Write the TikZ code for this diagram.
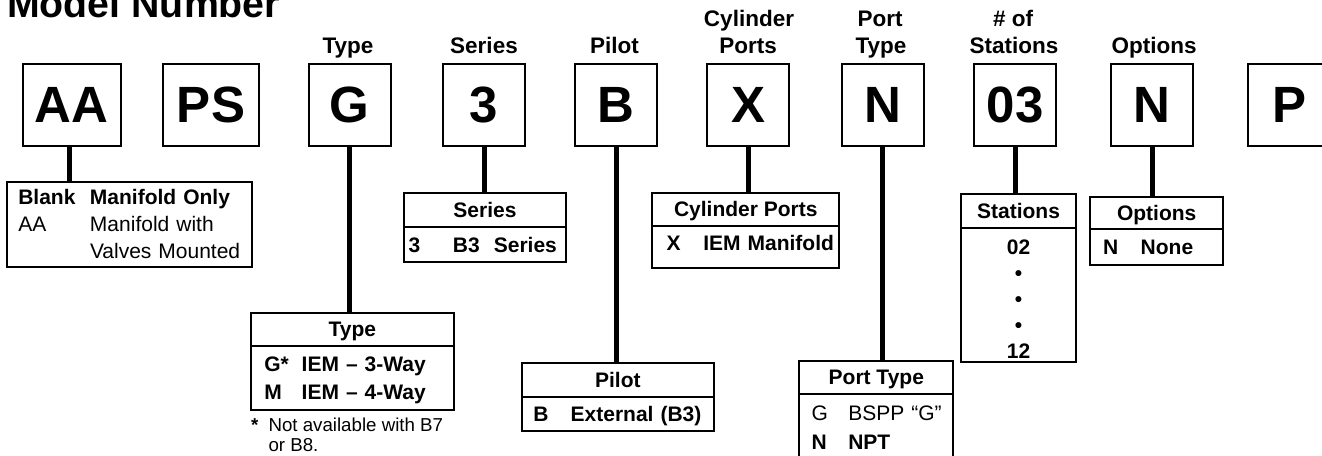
\documentclass[tikz,border=0pt]{standalone}
\usepackage{fontspec}
\setmainfont{Liberation Sans}
\usetikzlibrary{positioning}

\begin{document}
\begin{tikzpicture}[
    x=1pt, y=-1pt,
    title/.style={font=\fontsize{39.3}{40}\selectfont\bfseries, anchor=base west, inner sep=0pt},
    heading/.style={font=\fontsize{22.5}{27}\selectfont\bfseries, anchor=base, inner sep=0pt},
    codebox/.style={draw, line width=2pt, minimum width=82pt, minimum height=81.5pt, inner sep=0pt, font=\fontsize{51}{51}\selectfont\bfseries},
    tabhead/.style={draw, line width=2pt, outer sep=0pt, minimum height=33.5pt, text height=15pt, text depth=0pt, font=\fontsize{21}{27}\selectfont\bfseries},
    tabbody/.style={draw, line width=2pt, outer sep=0pt, inner xsep=0pt, inner ysep=2pt, align=left, font=\fontsize{21}{28}\selectfont},
    boldbody/.style={tabbody, font=\fontsize{21}{28}\selectfont\bfseries},
    stem/.style={line width=5pt},
    fnote/.style={font=\fontsize{18.7}{20}\selectfont, inner sep=0pt},
]
    \useasboundingbox (0,0) rectangle (1322,455);
    \clip (0,0) rectangle (1322,455);

    % ================================================================
    % MODEL NUMBER CODE BOXES
    % ================================================================
    \node[title] (model) at (7,17) {Model Number};

    \node[codebox, minimum width=98pt] (aa) at (71.8,105) {AA};
    \node[codebox, minimum width=96pt] (ps) at (211,105) {PS};
    \node[codebox] (g) at (349.5,105) {G};
    \node[codebox] (three) at (484,105) {3};
    \node[codebox] (b) at (616,105) {B};
    \node[codebox] (x) at (748,105) {X};
    \node[codebox] (nport) at (882.5,105) {N};
    \node[codebox] (zthree) at (1015,105) {03};
    \node[codebox] (nopt) at (1152,105) {N};
    \node[codebox] (p) at (1289,105) {P};

    \node[heading] (typeLab) at (348,53.3) {Type};
    \node[heading] (seriesLab) at (484,53.3) {Series};
    \node[heading] (pilotLab) at (614.5,53.3) {Pilot};
    \node[heading] (cylLabA) at (749,26) {Cylinder};
    \node[heading] (cylLab) at (748,53.3) {Ports};
    \node[heading] (portLabA) at (880,26) {Port};
    \node[heading] (portLab) at (881,53.3) {Type};
    \node[heading] (statLabA) at (1013,26) {\# of};
    \node[heading] (statLab) at (1014,53.3) {Stations};
    \node[heading] (optLab) at (1154,53.3) {Options};

    % ================================================================
    % LEGEND TABLES
    % ================================================================
    \node[tabbody, anchor=north west, text width=245.6pt, minimum height=85pt,
          font=\fontsize{21}{27}\selectfont] (blank) at (6.7,181.7)
        {\textbf{\makebox[83.3pt][l]{\hspace{11.6pt}Blank}Manifold Only}\\
         \makebox[83.3pt][l]{\hspace{11.6pt}AA}Manifold with\\
         \hspace*{83.3pt}Valves Mounted};

    \node[tabhead, anchor=north west, minimum width=162pt] (seriesHead) at (404,193.3) {Series};
    \node[boldbody, below=0pt of seriesHead, text width=162pt, minimum height=35.6pt] (seriesBody)
        {\makebox[49pt][l]{\hspace{4.5pt}3}B3\ \ Series};

    \node[tabhead, anchor=north west, minimum width=187pt] (cylHead) at (652.3,192.7) {Cylinder Ports};
    \node[boldbody, below=0pt of cylHead, text width=187pt, minimum height=41.6pt] (cylBody)
        {\raisebox{0pt}[\height][8pt]{\makebox[51pt][l]{\hspace{14.4pt}X}IEM Manifold}};

    \node[tabhead, anchor=north west, minimum width=115pt] (statHead) at (961,194) {Stations};
    \node[boldbody, below=0pt of statHead, text width=115pt, minimum height=134pt, align=center,
          font=\fontsize{21}{26}\selectfont\bfseries] (statBody)
        {\rule{0pt}{23pt}02\\ \textbullet\\ \textbullet\\ \textbullet\\ 12};

    \node[tabhead, anchor=north west, minimum width=133.3pt, minimum height=32.6pt] (optHead) at (1090,196.7) {Options};
    \node[boldbody, below=0pt of optHead, text width=133.3pt, minimum height=35.7pt] (optBody)
        {\makebox[50.7pt][l]{\hspace{13pt}N}None};

    \node[tabhead, anchor=north west, minimum width=203.3pt, minimum height=33pt] (typeHead) at (250.7,312.7) {Type};
    \node[boldbody, below=0pt of typeHead, text width=203.3pt, minimum height=64.3pt,
          font=\fontsize{21}{28.3}\selectfont\bfseries] (typeBody)
        {\makebox[51pt][l]{\hspace{13.6pt}G*}IEM – 3-Way\\
         \raisebox{0pt}[\height][0pt]{\makebox[51pt][l]{\hspace{13.6pt}M}IEM – 4-Way}};

    \node[fnote, anchor=base west] (star) at (251,431) {\textbf{*}};
    \node[fnote, anchor=north west, align=left] (note) at (268.3,417.6) {Not available with B7\\or B8.};

    \node[tabhead, anchor=north west, minimum width=192.3pt, minimum height=33.4pt] (pilotHead) at (521.7,363.3) {Pilot};
    \node[boldbody, below=0pt of pilotHead, text width=192.3pt, minimum height=34.3pt] (pilotBody)
        {\raisebox{0pt}[\height][0pt]{\makebox[49pt][l]{\hspace{11.6pt}B}External (B3)}};

    \node[tabhead, anchor=north west, minimum width=154pt, minimum height=33.3pt] (portHead) at (799.3,360.7) {Port Type};
    \node[tabbody, below=0pt of portHead, text width=154pt, minimum height=66.7pt,
          font=\fontsize{21}{28.7}\selectfont] (portBody)
        {\makebox[49pt][l]{\hspace{12.4pt}G}BSPP “G”\\
         \textbf{\makebox[49pt][l]{\hspace{12.4pt}N}NPT}};

    % ================================================================
    % CONNECTORS
    % ================================================================
    \draw[stem] ([xshift=-2pt]aa.south) -- ([xshift=-2pt]aa.south |- blank.north);
    \draw[stem] (g.south) -- (g.south |- typeHead.north);
    \draw[stem] (three.south) -- (three.south |- seriesHead.north);
    \draw[stem] (b.south) -- (b.south |- pilotHead.north);
    \draw[stem] (x.south) -- (x.south |- cylHead.north);
    \draw[stem] (nport.south) -- (nport.south |- portHead.north);
    \draw[stem] (zthree.south) -- (zthree.south |- statHead.north);
    \draw[stem] (nopt.south) -- (nopt.south |- optHead.north);

\end{tikzpicture}
\end{document}
